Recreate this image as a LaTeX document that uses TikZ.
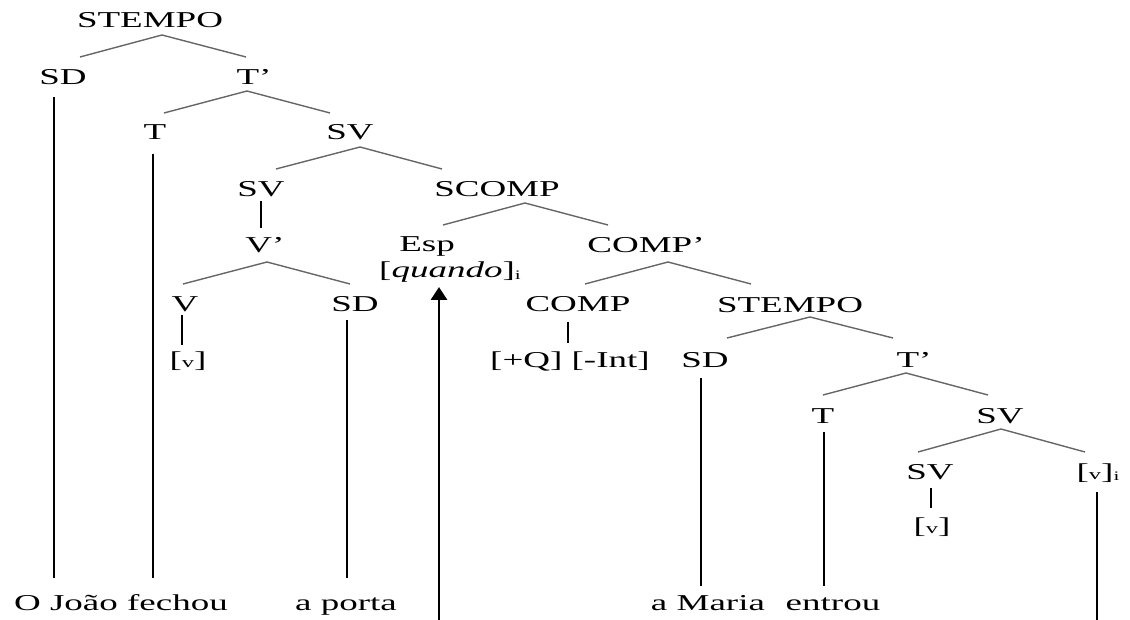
\documentclass[tikz,border=0pt]{standalone}
\usepackage{fontspec}
\setmainfont{Liberation Serif}[FakeStretch=1.63]
\usetikzlibrary{arrows.meta,calc}
\newcommand{\smv}{{\fontsize{15}{15}\selectfont v}}
\newcommand{\subi}{\raisebox{-1.5pt}{\fontsize{13}{13}\selectfont i}}
\tikzset{
  lbl/.style={anchor=base,inner sep=0pt,font=\fontsize{22.7}{27}\selectfont},
  branch/.style={draw=black!60,line width=1.4pt},
  stem/.style={draw=black,line width=2.9pt},
}
\begin{document}
\begin{tikzpicture}[x=1pt,y=-1pt]
\useasboundingbox (0,0) rectangle (1130,620);
% nodes
\node[lbl] (s1) at (150,28) {STEMPO};
\node[lbl] (sd1) at (63,85) {SD};
\node[lbl] (t1b) at (254,85) {T’};
\node[lbl] (t1) at (155,140) {T};
\node[lbl] (sv1) at (350,140) {SV};
\node[lbl] (sv2) at (261,197) {SV};
\node[lbl] (scomp) at (497,197) {SCOMP};
\node[lbl] (vb) at (265,253) {V’};
\node[lbl] (esp) at (427,252) {Esp};
\node[lbl] (quando) at (450,278) {[\textit{quando}]\subi};
\node[lbl] (compb) at (646,253) {COMP’};
\node[lbl] (v) at (185,312) {V};
\node[lbl] (sd2) at (355,312) {SD};
\node[lbl] (comp) at (578,312) {COMP};
\node[lbl] (s2) at (790,313) {STEMPO};
\node[lbl] (vv1) at (188,367) {[\smv]};
\node[lbl] (feat) at (570,367) {[+Q] [-Int]};
\node[lbl] (sd3) at (705,367) {SD};
\node[lbl] (t2b) at (914,367) {T’};
\node[lbl] (t2) at (823,423) {T};
\node[lbl] (sv3) at (1000,423) {SV};
\node[lbl] (sv4) at (930,479) {SV};
\node[lbl] (vi) at (1098,479) {[\smv]\subi};
\node[lbl] (vv2) at (932,533) {[\smv]};
\node[lbl] (w1) at (121,610) {O João fechou};
\node[lbl] (w2) at (346,610) {a porta};
\node[lbl] (w3) at (708,610) {a Maria};
\node[lbl] (w4) at (833,610) {entrou};
\coordinate (arrfoot) at (439,620);
\coordinate (vifoot) at (1097,620);
% branches
\draw[branch] ($(sd1.base)+(17,-28)$) -- ($(s1.base)+(12,7)$) -- ($(t1b.base)+(-8,-28)$);
\draw[branch] ($(t1.base)+(9,-27)$) -- ($(t1b.base)+(-7,6)$) -- ($(sv1.base)+(-20,-27)$);
\draw[branch] ($(sv2.base)+(15,-28)$) -- ($(sv1.base)+(10,7)$) -- ($(scomp.base)+(-55,-28)$);
\draw[branch] ($(esp.base)+(16,-27)$) -- ($(scomp.base)+(28,6)$) -- ($(compb.base)+(-38,-28)$);
\draw[branch] ($(v.base)+(-2,-28)$) -- ($(vb.base)+(2,9)$) -- ($(sd2.base)+(-5,-28)$);
\draw[branch] ($(comp.base)+(7,-28)$) -- ($(compb.base)+(22,9)$) -- ($(s2.base)+(-39,-29)$);
\draw[branch] ($(sd3.base)+(22,-29)$) -- ($(s2.base)+(20,4)$) -- ($(t2b.base)+(-21,-29)$);
\draw[branch] ($(t2.base)+(0,-28)$) -- ($(t2b.base)+(-8,6)$) -- ($(sv3.base)+(-12,-28)$);
\draw[branch] ($(sv4.base)+(-12,-27)$) -- ($(sv3.base)+(1,6)$) -- ($(vi.base)+(-13,-27)$);
% stems
\draw[stem] ($(sv2.base)+(0,4)$) -- ($(vb.base)+(-4,-25)$);
\draw[stem] ($(v.base)+(-3,3)$) -- ($(vv1.base)+(-6,-22)$);
\draw[stem] ($(comp.base)+(-10,10)$) -- ($(feat.base)+(-2,-24)$);
\draw[stem] ($(sv4.base)+(1,9)$) -- ($(vv2.base)+(-1,-25)$);
\draw[stem] ($(sd1.base)+(-9,12)$) -- ($(w1.base)+(-67,-32)$);
\draw[stem] ($(t1.base)+(-2,14)$) -- ($(w1.base)+(32,-32)$);
\draw[stem] ($(sd2.base)+(-8,8)$) -- ($(w2.base)+(1,-32)$);
\draw[stem] ($(sd3.base)+(-4,11)$) -- ($(w3.base)+(-7,-24)$);
\draw[stem] ($(t2.base)+(1,9)$) -- ($(w4.base)+(-9,-24)$);
\draw[stem] (vifoot) -- ($(vi.base)+(-1,13)$);
\draw[stem,-{Triangle[length=13pt,width=16pt]}] (arrfoot) -- ($(quando.base)+(-11,9)$);
\end{tikzpicture}
\end{document}
